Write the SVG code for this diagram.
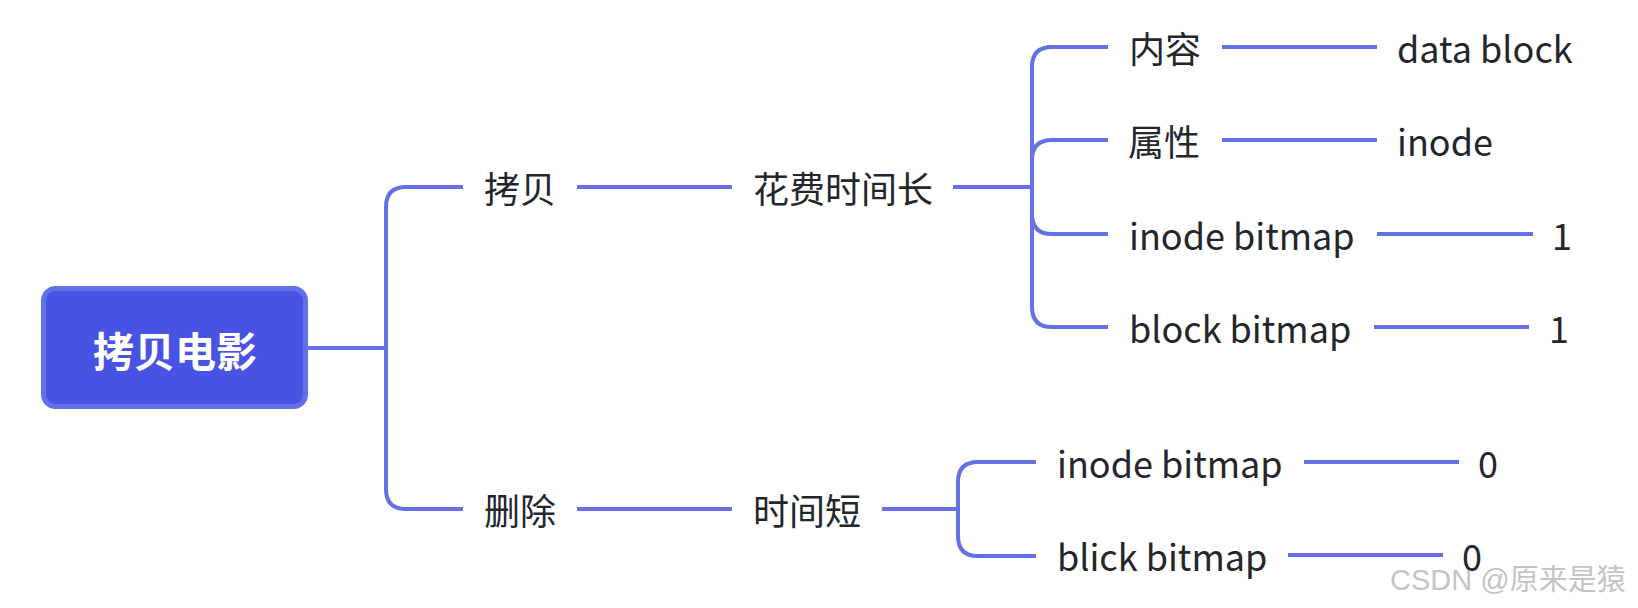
<svg xmlns="http://www.w3.org/2000/svg" width="1638" height="608" viewBox="0 0 1638 608">
<style>
.ln{fill:none;stroke:#6470e6;stroke-width:4;stroke-linecap:butt}
.t{font-family:"Noto Sans CJK SC","Noto Sans",sans-serif;font-size:36px;fill:#23262b}
.root{font-family:"Noto Sans CJK SC","Noto Sans",sans-serif;font-size:41px;font-weight:bold;fill:#ffffff}
.wm{font-family:"Liberation Sans","Noto Sans CJK SC",sans-serif;font-size:29px;fill:#c4c4c4}
</style>
<rect width="1638" height="608" fill="#ffffff"/>
<g id="connectors">
<path class="ln" d="M308,348 H386"/>
<path class="ln" d="M463,187 H406 Q386,187 386,207 V489 Q386,509 406,509 H463"/>
<path class="ln" d="M577,187 H732"/>
<path class="ln" d="M577,509 H732"/>
<path class="ln" d="M953,187 H1032"/>
<path class="ln" d="M1108,47 H1052 Q1032,47 1032,67 V307 Q1032,327 1052,327 H1108"/>
<path class="ln" d="M1032,160 Q1032,140 1052,140 H1108"/>
<path class="ln" d="M1032,214 Q1032,234 1052,234 H1108"/>
<path class="ln" d="M1222,47 H1377"/>
<path class="ln" d="M1222,140 H1377"/>
<path class="ln" d="M1377,234 H1533"/>
<path class="ln" d="M1374,327 H1529"/>
<path class="ln" d="M882,509 H958"/>
<path class="ln" d="M1036,462 H978 Q958,462 958,482 V536 Q958,556 978,556 H1036"/>
<path class="ln" d="M1304,462 H1459"/>
<path class="ln" d="M1288,555 H1443"/>
</g>
<g id="root">
<rect x="43.5" y="288.5" width="262" height="118" rx="12" fill="#4953e3" stroke="#6370e8" stroke-width="5"/>
<text class="root" x="175" y="367" text-anchor="middle">拷贝电影</text>
</g>
<g id="n-copy"><text class="t" x="484" y="203">拷贝</text></g>
<g id="n-copy-time"><text class="t" x="753" y="203">花费时间长</text></g>
<g id="n-content"><text class="t" x="1129" y="63">内容</text></g>
<g id="n-datablock"><text class="t" x="1397" y="63">data block</text></g>
<g id="n-attr"><text class="t" x="1128" y="156">属性</text></g>
<g id="n-inode"><text class="t" x="1397" y="156">inode</text></g>
<g id="n-inodebitmap1"><text class="t" x="1129" y="250">inode bitmap</text></g>
<g id="n-one1"><text class="t" x="1552" y="250">1</text></g>
<g id="n-blockbitmap1"><text class="t" x="1129" y="343">block bitmap</text></g>
<g id="n-one2"><text class="t" x="1549" y="343">1</text></g>
<g id="n-delete"><text class="t" x="484" y="525">删除</text></g>
<g id="n-delete-time"><text class="t" x="753" y="525">时间短</text></g>
<g id="n-inodebitmap2"><text class="t" x="1057" y="478">inode bitmap</text></g>
<g id="n-zero1"><text class="t" x="1478" y="478">0</text></g>
<g id="n-blickbitmap"><text class="t" x="1057" y="571">blick bitmap</text></g>
<g id="n-zero2"><text class="t" x="1462" y="571">0</text></g>
<text class="wm" x="1390" y="590">CSDN @原来是猿</text>
</svg>
